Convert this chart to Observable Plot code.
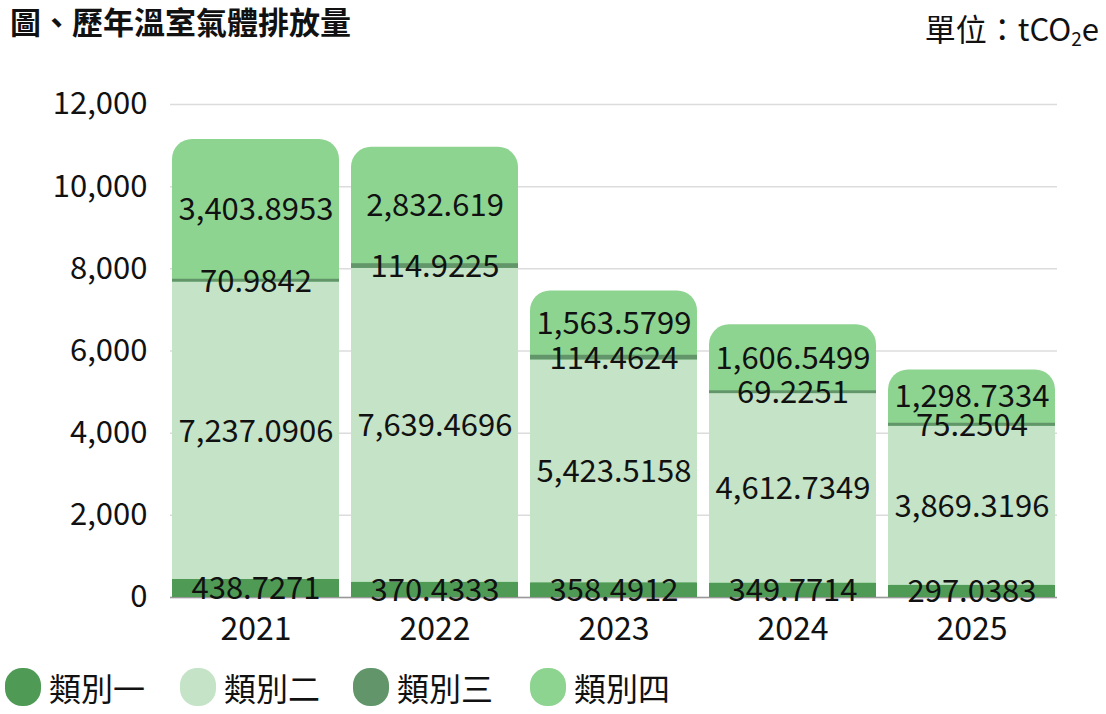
<!DOCTYPE html>
<html>
<head>
<meta charset="utf-8">
<script src="https://cdn.jsdelivr.net/npm/d3@7"></script>
<script src="https://cdn.jsdelivr.net/npm/@observablehq/plot@0.6"></script>
<style>
  html, body { margin: 0; padding: 0; background: #fff; }
  body { width: 1106px; height: 714px; overflow: hidden; font-family: "Noto Sans CJK TC", "Noto Sans", sans-serif; color: #111; }
  #head { position: relative; height: 60px; }
  #title { position: absolute; left: 10px; top: 1px; font-size: 31px; font-weight: 700; line-height: 40px; }
  #unit { position: absolute; right: 7px; top: 6px; font-size: 31px; line-height: 44px; }
  #unit sub { font-size: 19px; vertical-align: -5px; line-height: 0; }
  #legend { position: relative; height: 54px; }
  .item { position: absolute; top: 0; height: 54px; display: flex; align-items: center; font-size: 32px; }
  .sw { width: 36px; height: 38px; border-radius: 17px; margin-right: 8px; }
  svg { display: block; }
</style>
</head>
<body>
<div id="head"><div id="title">圖、歷年溫室氣體排放量</div><div id="unit">單位：tCO<sub>2</sub>e</div></div>
<div id="chart"></div>
<div id="legend"></div>
<script>
const years = ["2021", "2022", "2023", "2024", "2025"];
const categories = ["類別一", "類別二", "類別三", "類別四"];
const cat1 = [438.7271, 370.4333, 358.4912, 349.7714, 297.0383];
const cat2 = [7237.0906, 7639.4696, 5423.5158, 4612.7349, 3869.3196];
const cat3 = [70.9842, 114.9225, 114.4624, 69.2251, 75.2504];
const cat4 = [3403.8953, 2832.619, 1563.5799, 1606.5499, 1298.7334];
const colors = ["#4f9a55", "#c4e3c7", "#62966a", "#8ed491"];
const yTicks = [0, 2000, 4000, 6000, 8000, 10000, 12000];

const series = [cat1, cat2, cat3, cat4];
const rows = [];
years.forEach((y, i) => series.forEach((s, c) => rows.push({year: y, cat: categories[c], value: s[i]})));
const totals = years.map((y, i) => ({year: y, total: series.reduce((a, s) => a + s[i], 0)}));
const lower = rows.filter(d => d.cat !== "類別四");

const fmt = d3.format(",");
const chart = Plot.plot({
  width: 1106,
  height: 600,
  marginLeft: 170,
  marginRight: 49,
  marginTop: 44,
  marginBottom: 63,
  style: {fontFamily: "'Noto Sans CJK TC', sans-serif", fontSize: "30px", color: "#111", background: "#fff"},
  x: {type: "band", domain: years, paddingInner: 0.065, paddingOuter: 0, label: null},
  y: {domain: [0, 12000], label: null},
  color: {domain: categories, range: colors},
  marks: [
    Plot.gridY(yTicks, {stroke: "#dcdcdc", strokeOpacity: 1, strokeWidth: 1.5}),
    Plot.ruleY([0], {stroke: "#999", strokeWidth: 1.5}),
    Plot.barY(totals, {x: "year", y: "total", fill: colors[3], rx: 20, inset: 0}),
    Plot.barY(lower, Plot.stackY({x: "year", y: "value", fill: "cat", inset: 0})),
    Plot.text(rows, Plot.stackY({x: "year", y: "value", text: d => fmt(d.value), fontSize: 31, fill: "#111", dy: 1})),
    Plot.axisY(yTicks, {tickFormat: d3.format(","), tickSize: 0, tickPadding: 23, fontSize: 31, fill: "#111", label: null}),
    Plot.axisX({tickSize: 0, tickPadding: 20, fontSize: 32, fill: "#111", label: null})
  ]
});
document.getElementById("chart").appendChild(chart);

const legend = document.getElementById("legend");
const lefts = [5, 180, 353, 530];
categories.forEach((c, i) => {
  const it = document.createElement("div");
  it.className = "item";
  it.style.left = lefts[i] + "px";
  it.innerHTML = `<div class="sw" style="background:${colors[i]}"></div><span>${c}</span>`;
  legend.appendChild(it);
});
</script>
</body>
</html>
